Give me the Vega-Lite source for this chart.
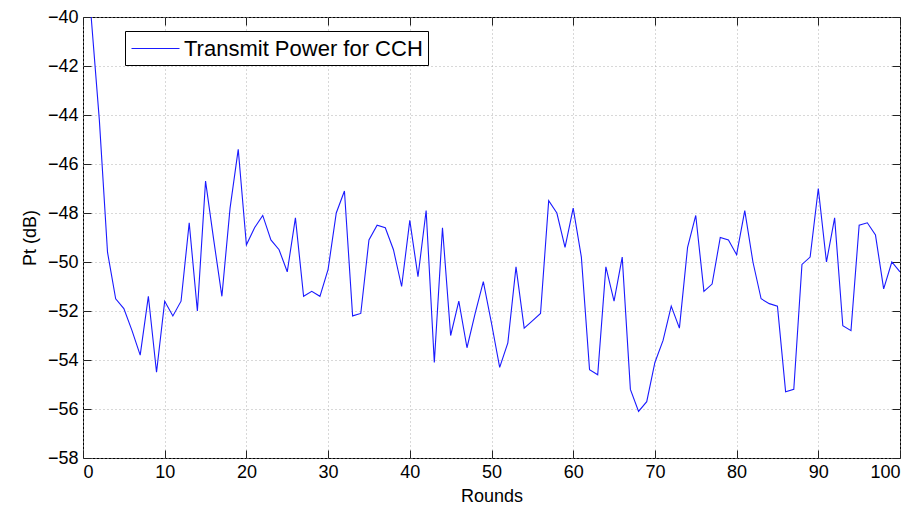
{
  "$schema": "https://vega.github.io/schema/vega-lite/v6.json",
  "width": 817,
  "height": 441,
  "autosize": {"type": "none"},
  "padding": {"left": 83, "top": 17, "right": 24, "bottom": 55},
  "background": "white",
  "config": {
    "font": "Liberation Sans",
    "view": {"stroke": "black", "strokeWidth": 1},
    "axis": {
      "domain": false,
      "tickColor": "#222",
      "tickSize": -8,
      "tickWidth": 1,
      "labelColor": "black",
      "labelFontSize": 18,
      "labelFont": "Liberation Sans",
      "labelPadding": 13,
      "titleColor": "black",
      "titleFont": "Liberation Sans",
      "titleFontSize": 18,
      "titleFontWeight": "normal",
      "gridColor": "#b0b0b0",
      "gridDash": [1, 3],
      "gridWidth": 1
    }
  },
  "data": {
    "values": [
      {"round": 1, "pt": -40.0}, {"round": 2, "pt": -44.2}, {"round": 3, "pt": -49.6}, {"round": 4, "pt": -51.5},
      {"round": 5, "pt": -51.9}, {"round": 6, "pt": -52.8}, {"round": 7, "pt": -53.8}, {"round": 8, "pt": -51.4},
      {"round": 9, "pt": -54.5}, {"round": 10, "pt": -51.6}, {"round": 11, "pt": -52.2}, {"round": 12, "pt": -51.6},
      {"round": 13, "pt": -48.4}, {"round": 14, "pt": -52.0}, {"round": 15, "pt": -46.7}, {"round": 16, "pt": -49.1},
      {"round": 17, "pt": -51.4}, {"round": 18, "pt": -47.8}, {"round": 19, "pt": -45.4}, {"round": 20, "pt": -49.3},
      {"round": 21, "pt": -48.6}, {"round": 22, "pt": -48.1}, {"round": 23, "pt": -49.1}, {"round": 24, "pt": -49.5},
      {"round": 25, "pt": -50.4}, {"round": 26, "pt": -48.2}, {"round": 27, "pt": -51.4}, {"round": 28, "pt": -51.2},
      {"round": 29, "pt": -51.4}, {"round": 30, "pt": -50.3}, {"round": 31, "pt": -48.0}, {"round": 32, "pt": -47.1},
      {"round": 33, "pt": -52.2}, {"round": 34, "pt": -52.1}, {"round": 35, "pt": -49.1}, {"round": 36, "pt": -48.5},
      {"round": 37, "pt": -48.6}, {"round": 38, "pt": -49.5}, {"round": 39, "pt": -51.0}, {"round": 40, "pt": -48.3},
      {"round": 41, "pt": -50.6}, {"round": 42, "pt": -47.9}, {"round": 43, "pt": -54.1}, {"round": 44, "pt": -48.6},
      {"round": 45, "pt": -53.0}, {"round": 46, "pt": -51.6}, {"round": 47, "pt": -53.5}, {"round": 48, "pt": -52.1},
      {"round": 49, "pt": -50.8}, {"round": 50, "pt": -52.5}, {"round": 51, "pt": -54.3}, {"round": 52, "pt": -53.3},
      {"round": 53, "pt": -50.2}, {"round": 54, "pt": -52.7}, {"round": 55, "pt": -52.4}, {"round": 56, "pt": -52.1},
      {"round": 57, "pt": -47.5}, {"round": 58, "pt": -48.0}, {"round": 59, "pt": -49.4}, {"round": 60, "pt": -47.8},
      {"round": 61, "pt": -49.8}, {"round": 62, "pt": -54.4}, {"round": 63, "pt": -54.6}, {"round": 64, "pt": -50.2},
      {"round": 65, "pt": -51.6}, {"round": 66, "pt": -49.8}, {"round": 67, "pt": -55.2}, {"round": 68, "pt": -56.1},
      {"round": 69, "pt": -55.7}, {"round": 70, "pt": -54.1}, {"round": 71, "pt": -53.2}, {"round": 72, "pt": -51.8},
      {"round": 73, "pt": -52.7}, {"round": 74, "pt": -49.4}, {"round": 75, "pt": -48.1}, {"round": 76, "pt": -51.2},
      {"round": 77, "pt": -50.9}, {"round": 78, "pt": -49.0}, {"round": 79, "pt": -49.1}, {"round": 80, "pt": -49.7},
      {"round": 81, "pt": -47.9}, {"round": 82, "pt": -50.0}, {"round": 83, "pt": -51.5}, {"round": 84, "pt": -51.7},
      {"round": 85, "pt": -51.8}, {"round": 86, "pt": -55.3}, {"round": 87, "pt": -55.2}, {"round": 88, "pt": -50.1},
      {"round": 89, "pt": -49.8}, {"round": 90, "pt": -47.0}, {"round": 91, "pt": -50.0}, {"round": 92, "pt": -48.2},
      {"round": 93, "pt": -52.6}, {"round": 94, "pt": -52.8}, {"round": 95, "pt": -48.5}, {"round": 96, "pt": -48.4},
      {"round": 97, "pt": -48.9}, {"round": 98, "pt": -51.1}, {"round": 99, "pt": -50.0}, {"round": 100, "pt": -50.4}
    ]
  },
  "layer": [
    {
      "mark": {"type": "line", "strokeWidth": 1.1, "clip": true},
      "encoding": {
        "x": {
          "field": "round", "type": "quantitative",
          "scale": {"domain": [0, 100], "nice": false},
          "axis": {"values": [0, 10, 20, 30, 40, 50, 60, 70, 80, 90, 100], "title": "Rounds", "grid": true, "titlePadding": 6}
        },
        "y": {
          "field": "pt", "type": "quantitative",
          "scale": {"domain": [-58, -40], "nice": false, "zero": false},
          "axis": {"values": [-58, -56, -54, -52, -50, -48, -46, -44, -42, -40], "title": "Pt (dB)", "grid": true, "titlePadding": 8}
        },
        "color": {
          "datum": "Transmit Power for CCH",
          "type": "nominal",
          "scale": {"range": ["#1a1aff"]},
          "legend": {
            "orient": "none",
            "legendX": 42,
            "legendY": 14,
            "title": null,
            "strokeColor": "black",
            "fillColor": "white",
            "padding": 5,
            "symbolType": "M-2,0H2",
            "symbolSize": 576,
            "symbolStrokeWidth": 1,
            "symbolOffset": 13,
            "labelFontSize": 22,
            "labelFont": "Liberation Sans",
            "labelColor": "black",
            "labelOffset": 16,
            "labelLimit": 400
          }
        }
      }
    },
    {
      "mark": {"type": "point", "opacity": 0},
      "encoding": {
        "x": {
          "field": "round", "type": "quantitative",
          "scale": {"domain": [0, 100], "nice": false},
          "axis": {"orient": "top", "values": [0, 10, 20, 30, 40, 50, 60, 70, 80, 90, 100], "labels": false, "title": null, "grid": false}
        },
        "y": {
          "field": "pt", "type": "quantitative",
          "scale": {"domain": [-58, -40], "nice": false, "zero": false},
          "axis": {"orient": "right", "values": [-58, -56, -54, -52, -50, -48, -46, -44, -42, -40], "labels": false, "title": null, "grid": false}
        }
      }
    }
  ],
  "resolve": {"axis": {"x": "independent", "y": "independent"}}
}
